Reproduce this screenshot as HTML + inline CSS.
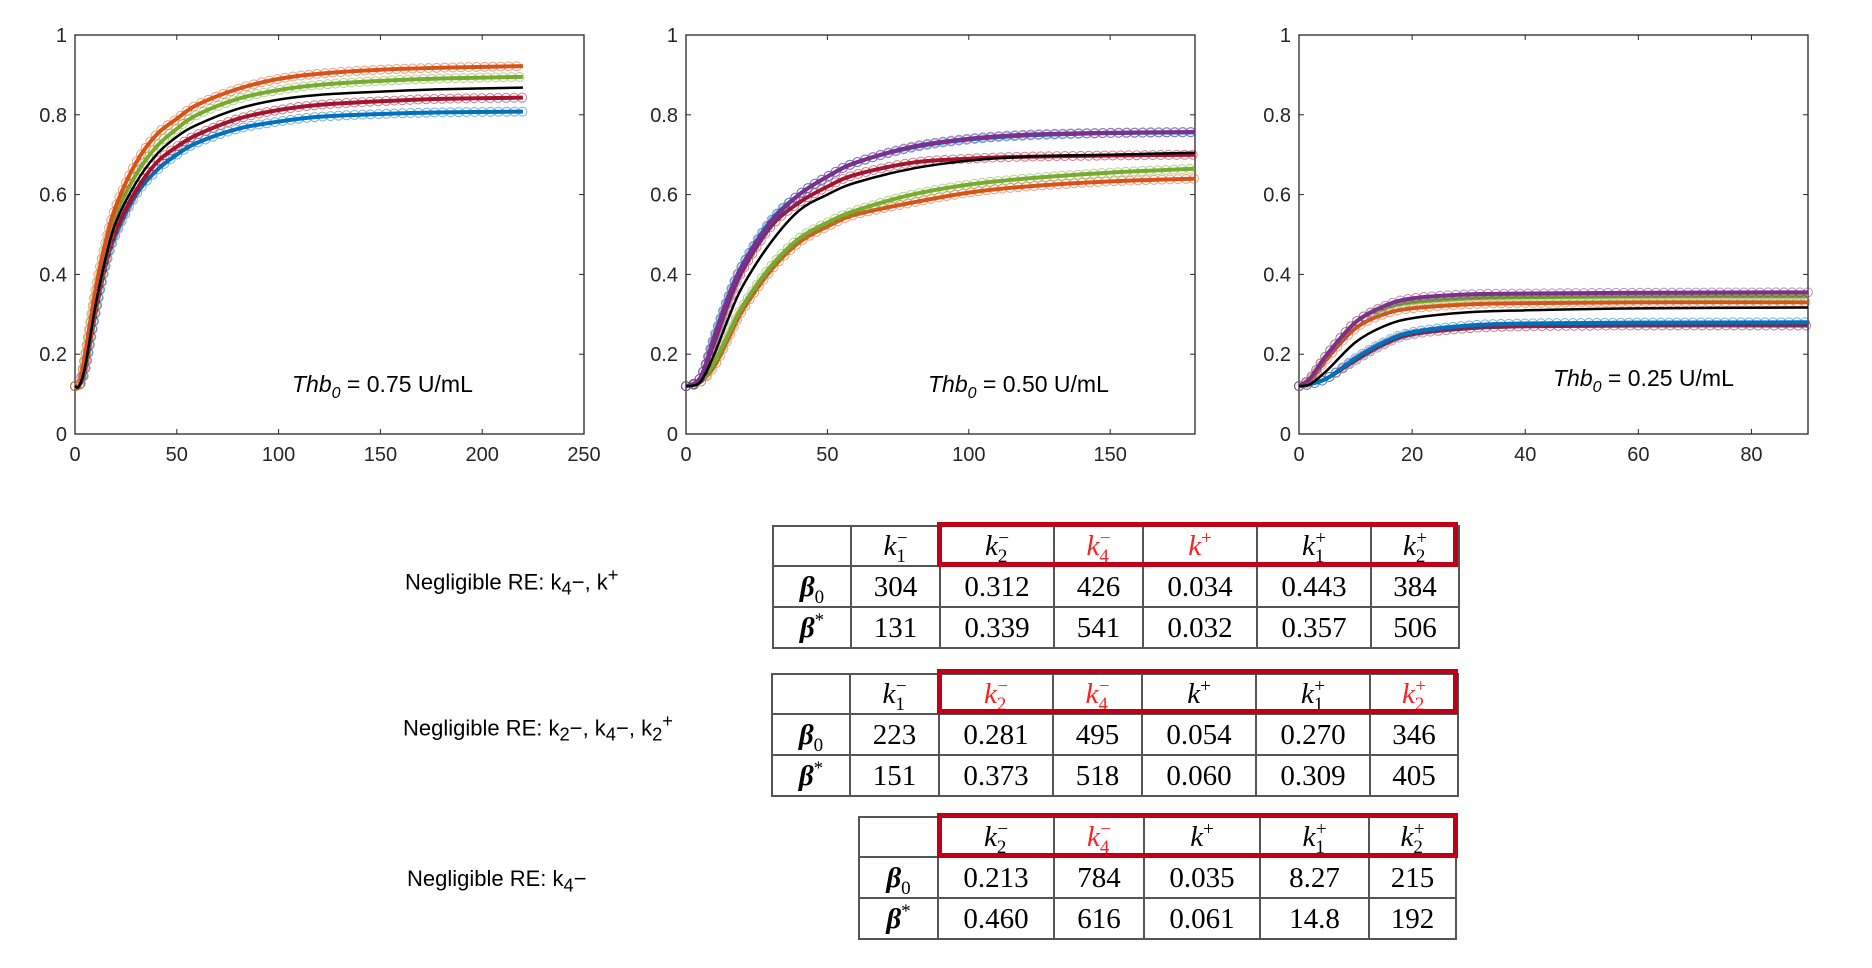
<!DOCTYPE html>
<html><head><meta charset="utf-8">
<style>
body{margin:0;background:#fff;width:1872px;height:968px;overflow:hidden;position:relative;font-family:"Liberation Sans",sans-serif}
svg{position:absolute;left:0;top:0}
.lab{position:absolute;font-size:22px;color:#000;white-space:nowrap}
table{position:absolute;border-collapse:collapse;font-family:"Liberation Serif",serif;font-size:29px;table-layout:fixed}
td{border:2px solid #555;text-align:center;padding:0;height:39px;line-height:30px}
tr:first-child td{height:38px}
.b{font-weight:bold;font-style:italic}
.r{color:#ff2020}
td sub,td sup{font-style:normal;font-size:19px;line-height:0;vertical-align:baseline;position:relative}
td sub{top:7px}
td sup{top:-11px}
td sub+sup{margin-left:-9px}
.box{position:absolute;border:5px solid #c00018;box-sizing:border-box}
</style></head><body>
<svg id="chart" width="1872" height="968"></svg>

<div class="lab" style="left:405px;top:564px">Negligible RE: k<sub>4</sub>−, k<sup>+</sup></div>
<div class="lab" style="left:403px;top:710px">Negligible RE: k<sub>2</sub>−, k<sub>4</sub>−, k<sub>2</sub><sup>+</sup></div>
<div class="lab" style="left:407px;top:866px">Negligible RE: k<sub>4</sub>−</div>

<table style="left:772px;top:525px;width:686px">
<colgroup><col style="width:78px"><col style="width:89px"><col style="width:114px"><col style="width:89px"><col style="width:114px"><col style="width:114px"><col style="width:88px"></colgroup>
<tr><td></td><td><i>k<sub>1</sub><sup>−</sup></i></td><td><i>k<sub>2</sub><sup>−</sup></i></td><td class="r"><i>k<sub>4</sub><sup>−</sup></i></td><td class="r"><i>k<sup>+</sup></i></td><td><i>k<sub>1</sub><sup>+</sup></i></td><td><i>k<sub>2</sub><sup>+</sup></i></td></tr>
<tr><td class="b">β<sub style="font-weight:normal">0</sub></td><td>304</td><td>0.312</td><td>426</td><td>0.034</td><td>0.443</td><td>384</td></tr>
<tr><td class="b">β<sup style="font-weight:normal">*</sup></td><td>131</td><td>0.339</td><td>541</td><td>0.032</td><td>0.357</td><td>506</td></tr>
</table>
<div class="box" style="left:937px;top:522px;width:521px;height:45px"></div>

<table style="left:771px;top:673px;width:686px">
<colgroup><col style="width:78px"><col style="width:89px"><col style="width:114px"><col style="width:89px"><col style="width:114px"><col style="width:114px"><col style="width:88px"></colgroup>
<tr><td></td><td><i>k<sub>1</sub><sup>−</sup></i></td><td class="r"><i>k<sub>2</sub><sup>−</sup></i></td><td class="r"><i>k<sub>4</sub><sup>−</sup></i></td><td><i>k<sup>+</sup></i></td><td><i>k<sub>1</sub><sup>+</sup></i></td><td class="r"><i>k<sub>2</sub><sup>+</sup></i></td></tr>
<tr><td class="b">β<sub style="font-weight:normal">0</sub></td><td>223</td><td>0.281</td><td>495</td><td>0.054</td><td>0.270</td><td>346</td></tr>
<tr><td class="b">β<sup style="font-weight:normal">*</sup></td><td>151</td><td>0.373</td><td>518</td><td>0.060</td><td>0.309</td><td>405</td></tr>
</table>
<div class="box" style="left:937px;top:669px;width:521px;height:45px"></div>

<table style="left:858px;top:816px;width:597px">
<colgroup><col style="width:79px"><col style="width:116px"><col style="width:90px"><col style="width:116px"><col style="width:109px"><col style="width:87px"></colgroup>
<tr><td></td><td><i>k<sub>2</sub><sup>−</sup></i></td><td class="r"><i>k<sub>4</sub><sup>−</sup></i></td><td><i>k<sup>+</sup></i></td><td><i>k<sub>1</sub><sup>+</sup></i></td><td><i>k<sub>2</sub><sup>+</sup></i></td></tr>
<tr><td class="b">β<sub style="font-weight:normal">0</sub></td><td>0.213</td><td>784</td><td>0.035</td><td>8.27</td><td>215</td></tr>
<tr><td class="b">β<sup style="font-weight:normal">*</sup></td><td>0.460</td><td>616</td><td>0.061</td><td>14.8</td><td>192</td></tr>
</table>
<div class="box" style="left:937px;top:813px;width:521px;height:45px"></div>

<script>
const t1=[0,2,5,10,15,20,30,40,50,60,80,100,120,150,180,220];
const p1Orange=[.12,.12,.2,.36,.48,.57,.68,.75,.79,.825,.865,.89,.903,.913,.918,.922];
const p1Green=[.12,.12,.19,.34,.46,.55,.65,.72,.765,.80,.84,.862,.875,.885,.891,.895];
const p1Black=[.12,.12,.17,.32,.44,.53,.63,.70,.745,.775,.815,.838,.85,.858,.864,.868];
const p1Red=[.12,.12,.17,.31,.43,.51,.61,.68,.72,.75,.79,.812,.825,.834,.84,.843];
const p1Blue=[.12,.12,.16,.30,.42,.50,.60,.66,.70,.73,.765,.783,.795,.802,.806,.808];
const t2=[0,5,10,15,20,30,40,50,60,80,100,120,150,180];
const p2Purple=[.12,.14,.24,.34,.42,.53,.60,.645,.68,.72,.74,.75,.755,.757];
const p2Blue=[.12,.14,.245,.345,.425,.535,.60,.645,.68,.718,.738,.748,.754,.756];
const p2Red=[.12,.14,.23,.33,.41,.52,.58,.62,.65,.68,.69,.695,.698,.70];
const p2Black=[.12,.13,.20,.29,.37,.48,.56,.60,.63,.665,.685,.695,.70,.705];
const p2Green=[.12,.13,.18,.25,.32,.42,.49,.53,.56,.60,.625,.64,.655,.665];
const p2Orange=[.12,.13,.17,.24,.31,.41,.48,.52,.55,.58,.605,.62,.633,.64];
const t3=[0,2,5,10,15,20,30,40,60,90];
const p3Purple=[.12,.14,.20,.28,.32,.34,.35,.352,.354,.355];
const p3Green=[.12,.14,.20,.28,.315,.33,.34,.343,.345,.345];
const p3Orange=[.12,.135,.19,.265,.30,.315,.325,.328,.33,.33];
const p3Black=[.12,.125,.16,.23,.27,.29,.305,.31,.315,.317];
const p3Blue=[.12,.125,.14,.19,.23,.255,.272,.277,.279,.28];
const p3Red=[.12,.125,.14,.185,.225,.25,.265,.27,.272,.272];
const yTicks=[0,0.2,0.4,0.6,0.8,1];
const xTicks1=[0,50,100,150,200,250];
const xTicks2=[0,50,100,150];
const xTicks3=[0,20,40,60,80];
const C={blue:'#0072BD',orange:'#D95319',green:'#77AC30',red:'#A2142F',purple:'#7E2F8E',black:'#000'};
const NS='http://www.w3.org/2000/svg';
const svg=document.getElementById('chart');
function mk(tag,attrs,parent){const e=document.createElementNS(NS,tag);for(const k in attrs)e.setAttribute(k,attrs[k]);(parent||svg).appendChild(e);return e;}
function plot(name,x0,x1,xmax,xt,t,series,label,lx,ly){
  const y0=434,y1=35;
  const g=mk('g',{});
  
  
  const X=v=>x0+(x1-x0)*v/xmax, Y=v=>y0-(y0-y1)*v;
  mk('rect',{x:x0,y:y1,width:x1-x0,height:y0-y1,fill:'#fff',stroke:'#262626','stroke-width':1.3},g);
  yTicks.forEach(v=>{mk('line',{x1:x0,x2:x0+5,y1:Y(v),y2:Y(v),stroke:'#262626'},g);mk('line',{x1:x1,x2:x1-5,y1:Y(v),y2:Y(v),stroke:'#262626'},g);
    const tx=mk('text',{x:x0-8,y:Y(v)+7,'text-anchor':'end','font-size':20,fill:'#262626'},g);tx.textContent=String(v);});
  xt.forEach(v=>{mk('line',{x1:X(v),x2:X(v),y1:y0,y2:y0-5,stroke:'#262626'},g);mk('line',{x1:X(v),x2:X(v),y1:y1,y2:y1+5,stroke:'#262626'},g);
    const tx=mk('text',{x:X(v),y:y0+27,'text-anchor':'middle','font-size':20,fill:'#262626'},g);tx.textContent=String(v);});
  series.forEach(([vals,col,sname])=>{
    const pts=t.map((tt,i)=>[X(tt),Y(vals[i])]);
    let d='M'+pts[0][0]+','+pts[0][1];
    for(let i=0;i<pts.length-1;i++){const p0=pts[Math.max(0,i-1)],p1=pts[i],p2=pts[i+1],p3=pts[Math.min(pts.length-1,i+2)];
      d+=` C${p1[0]+(p2[0]-p0[0])/6},${p1[1]+(p2[1]-p0[1])/6} ${p2[0]-(p3[0]-p1[0])/6},${p2[1]-(p3[1]-p1[1])/6} ${p2[0]},${p2[1]}`;}
    const path=mk('path',{d:d,fill:'none',stroke:C[col],'stroke-width':col==='black'?2.5:4},g);
    
    
    if(col!=='black'){const L=path.getTotalLength();
      for(let s=0;s<=L;s+=8){const p=path.getPointAtLength(s);
        const c=mk('circle',{cx:p.x,cy:p.y,r:4.5,fill:'none',stroke:C[col],'stroke-opacity':0.55,'stroke-width':1},g);
        
        }}
  });
  const tx=mk('text',{x:lx,y:ly,'font-size':23,fill:'#000'},g);
  tx.innerHTML='<tspan font-style="italic">Thb</tspan><tspan font-style="italic" font-size="16" dy="6">0</tspan><tspan dy="-6"> = '+label+'</tspan>';
}
plot('plot-thb-075',75,584,250,xTicks1,t1,[[p1Blue,'blue','blue-series'],[p1Red,'red','red-series'],[p1Green,'green','green-series'],[p1Orange,'orange','orange-series'],[p1Black,'black','model-series']],'0.75 U/mL',292,392);
plot('plot-thb-050',686,1195,180,xTicks2,t2,[[p2Orange,'orange','orange-series'],[p2Green,'green','green-series'],[p2Red,'red','red-series'],[p2Blue,'blue','blue-series'],[p2Purple,'purple','purple-series'],[p2Black,'black','model-series']],'0.50 U/mL',928,392);
plot('plot-thb-025',1299,1808,90,xTicks3,t3,[[p3Red,'red','red-series'],[p3Blue,'blue','blue-series'],[p3Orange,'orange','orange-series'],[p3Green,'green','green-series'],[p3Purple,'purple','purple-series'],[p3Black,'black','model-series']],'0.25 U/mL',1553,386);
</script>
</body></html>
